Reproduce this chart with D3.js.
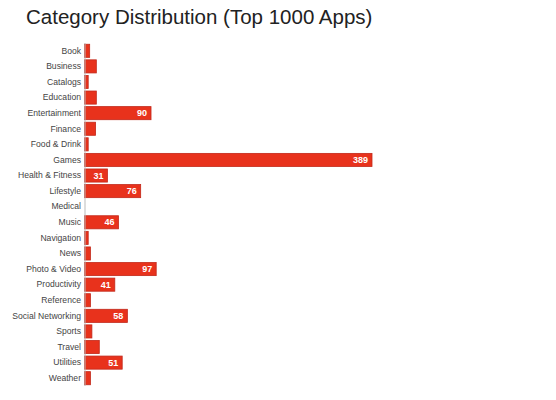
<!DOCTYPE html>
<html>
<head>
<meta charset="utf-8">
<script src="https://cdn.jsdelivr.net/npm/d3@7"></script>
<style>
html, body { margin: 0; padding: 0; background: #fff; }
svg { display: block; }
</style>
</head>
<body>
<svg id="chart" width="556" height="400"></svg>
<script>
const categories = ["Book","Business","Catalogs","Education","Entertainment","Finance","Food & Drink","Games","Health & Fitness","Lifestyle","Medical","Music","Navigation","News","Photo & Video","Productivity","Reference","Social Networking","Sports","Travel","Utilities","Weather"];
const counts = [7,16,5,16,90,15,5,389,31,76,0,46,5,8,97,41,8,58,10,20,51,8];
const title = "Category Distribution (Top 1000 Apps)";
const labelThreshold = 30;

const svg = d3.select("#chart");
const margin = {left: 84.5, top: 43, bottom: 14};

const x = d3.scaleLinear().domain([0, 389]).range([margin.left, 372]);
const y = d3.scaleBand().domain(categories).range([margin.top, 386]).paddingInner(0.16).paddingOuter(0.08);

svg.append("text")
  .attr("x", 26).attr("y", 24)
  .attr("font-family", "Liberation Sans, Arial, sans-serif")
  .attr("font-size", 20.5)
  .attr("fill", "#222")
  .text(title);

const data = categories.map((c, i) => ({c, v: counts[i]}));

svg.append("g").selectAll("rect").data(data).join("rect")
  .attr("x", x(0))
  .attr("y", d => y(d.c))
  .attr("width", d => Math.max(0, x(d.v) - x(0)))
  .attr("height", y.bandwidth())
  .attr("fill", d => d.v > 0 ? "#e8321c" : "none")
  .attr("stroke", d => d.v > 0 ? "#c2281a" : "none")
  .attr("stroke-width", 0.8);

const yAxis = d3.axisLeft(y).tickSize(0).tickPadding(3.5);
const ag = svg.append("g").attr("transform", `translate(${x(0)},0)`).call(yAxis);
ag.select(".domain").attr("stroke", "#bbb").attr("stroke-width", 1)
  .attr("d", `M0.5,${margin.top}V386`);
ag.selectAll("text")
  .attr("font-family", "Liberation Sans, Arial, sans-serif")
  .attr("font-size", 8.6)
  .attr("fill", "#444");

svg.append("g").selectAll("text").data(data.filter(d => d.v >= labelThreshold)).join("text")
  .attr("x", d => x(d.v) - 4)
  .attr("y", d => y(d.c) + y.bandwidth() / 2)
  .attr("dy", "0.35em")
  .attr("text-anchor", "end")
  .attr("font-family", "Liberation Sans, Arial, sans-serif")
  .attr("font-size", 9)
  .attr("font-weight", "bold")
  .attr("fill", "#fff")
  .text(d => d.v);
</script>
</body>
</html>
